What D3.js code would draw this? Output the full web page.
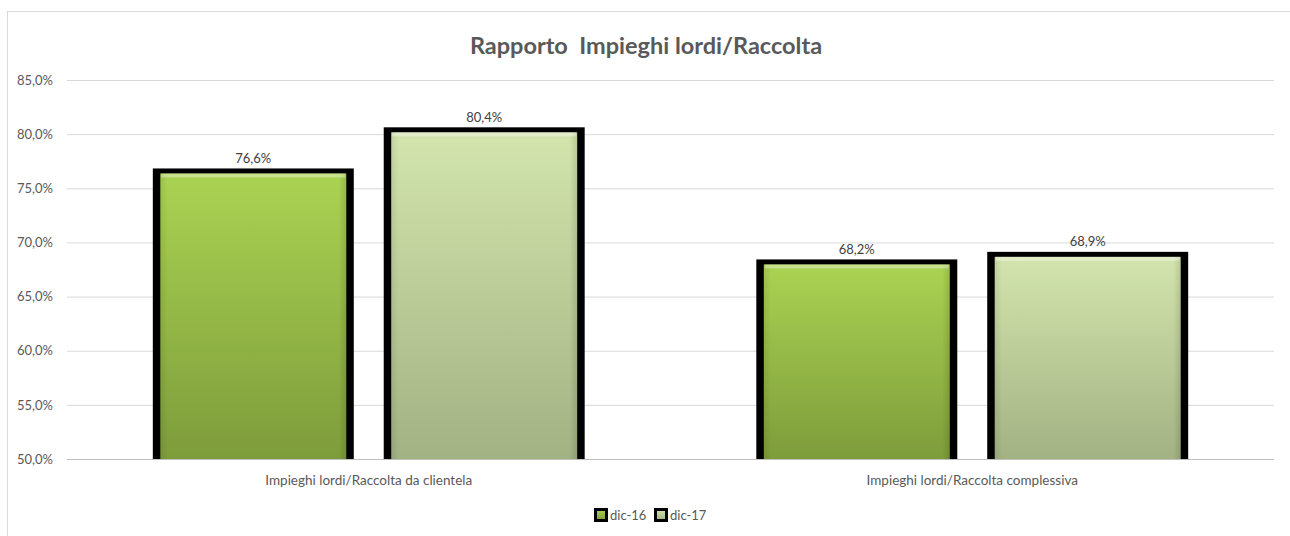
<!DOCTYPE html>
<html>
<head>
<meta charset="utf-8">
<script src="https://cdn.jsdelivr.net/npm/d3@7"></script>
<style>
  body{margin:0;background:#fff;}
  svg text{font-family:Lato,"Open Sans",sans-serif;}
</style>
</head>
<body>
<div id="chart"></div>
<script>
var svgW=1290,svgH=536;
var categories=["Impieghi lordi/Raccolta da clientela","Impieghi lordi/Raccolta complessiva"];
var seriesNames=["dic-16","dic-17"];
var dic16=[76.6,68.2];
var dic17=[80.4,68.9];
var yTicks=[50,55,60,65,70,75,80,85];
var titleText="Rapporto  Impieghi lordi/Raccolta";

var plotL=67,plotR=1274,plotT=80,plotB=459;
var fmt=function(v){return v.toFixed(1).replace(".",",")+"%";};

var svg=d3.select("#chart").append("svg")
    .attr("width",svgW).attr("height",svgH);

var defs=svg.append("defs");
var grads=[["g16","#abd352","#7d9c3b"],["g17","#d3e5ad","#a2b283"]];
grads.forEach(function(g){
    var lg=defs.append("linearGradient").attr("id",g[0])
        .attr("x1",0).attr("y1",0).attr("x2",0).attr("y2",1);
    lg.append("stop").attr("offset","0%").attr("stop-color",g[1]);
    lg.append("stop").attr("offset","100%").attr("stop-color",g[2]);
});
var hl=defs.append("linearGradient").attr("id","sideShade")
    .attr("x1",0).attr("y1",0).attr("x2",1).attr("y2",0);
hl.append("stop").attr("offset","0%").attr("stop-color","#000").attr("stop-opacity",0.08);
hl.append("stop").attr("offset","4%").attr("stop-color","#000").attr("stop-opacity",0);
hl.append("stop").attr("offset","96%").attr("stop-color","#000").attr("stop-opacity",0);
hl.append("stop").attr("offset","100%").attr("stop-color","#000").attr("stop-opacity",0.12);

// chart border
svg.append("rect")
    .attr("x",7.5).attr("y",11.5)
    .attr("width",1300).attr("height",530)
    .attr("fill","none").attr("stroke","#d9d9d9").attr("stroke-width",1);

var y=d3.scaleLinear().domain([50,85]).range([plotB,plotT]);
var x0=d3.scaleBand().domain(categories).range([plotL,plotR])
    .paddingInner(0.296).paddingOuter(0.148);
var x1=d3.scaleBand().domain(seriesNames).range([0,x0.bandwidth()])
    .paddingInner(0.16).paddingOuter(0);

// gridlines
var yAxis=d3.axisLeft(y).tickValues(yTicks).tickSize(-(plotR-plotL)).tickFormat(fmt).tickPadding(14);
var ga=svg.append("g").attr("transform","translate("+plotL+",0)").call(yAxis);
ga.select(".domain").remove();
ga.selectAll(".tick line").attr("stroke","#d9d9d9").attr("stroke-width",1);
ga.selectAll(".tick text").attr("fill","#595959").style("font-size","13px");

// title
svg.append("text")
    .attr("x",646).attr("y",54)
    .attr("text-anchor","middle")
    .attr("fill","#595959")
    .style("font-size","23.5px").style("font-weight","bold")
    .style("white-space","pre")
    .text(titleText);

var data=categories.map(function(c,i){
    return {cat:c,vals:[{s:"dic-16",v:dic16[i],g:"g16"},{s:"dic-17",v:dic17[i],g:"g17"}]};
});

var groups=svg.selectAll("g.cat").data(data).enter()
    .append("g").attr("class","cat")
    .attr("transform",function(d){return "translate("+x0(d.cat)+",0)";});

var bars=groups.selectAll("g.bar").data(function(d){return d.vals;}).enter()
    .append("g").attr("class","bar");

// black frame (top + sides, open at the axis)
bars.append("rect")
    .attr("x",function(d){return x1(d.s)-3.5;})
    .attr("y",function(d){return y(d.v)-2.5;})
    .attr("width",x1.bandwidth()+7)
    .attr("height",function(d){return y(50)-y(d.v)+2.5;})
    .attr("fill","#000");
bars.append("rect")
    .attr("x",function(d){return x1(d.s)+4;})
    .attr("y",function(d){return y(d.v)+2.5;})
    .attr("width",x1.bandwidth()-8)
    .attr("height",function(d){return y(50)-y(d.v)-2.5;})
    .attr("fill",function(d){return "url(#"+d.g+")";});

// side shading + top bevel
bars.append("rect")
    .attr("x",function(d){return x1(d.s)+4;})
    .attr("y",function(d){return y(d.v)+2.5;})
    .attr("width",x1.bandwidth()-8)
    .attr("height",function(d){return y(50)-y(d.v)-2.5;})
    .attr("fill","url(#sideShade)");
bars.append("rect")
    .attr("x",function(d){return x1(d.s)+5;})
    .attr("y",function(d){return y(d.v)+2.5;})
    .attr("width",x1.bandwidth()-10)
    .attr("height",4)
    .attr("fill","#fff").attr("opacity",0.35);

// bottom axis baseline over the bars
svg.append("line")
    .attr("x1",plotL).attr("x2",plotR)
    .attr("y1",plotB+0.5).attr("y2",plotB+0.5)
    .attr("stroke","#bfbfbf").attr("stroke-width",1);

bars.append("text")
    .attr("x",function(d){return x1(d.s)+x1.bandwidth()/2;})
    .attr("y",function(d){return y(d.v)-8;})
    .attr("text-anchor","middle")
    .attr("fill","#404040")
    .style("font-size","13px")
    .text(function(d){return fmt(d.v);});

// category labels
svg.selectAll("text.catlab").data(categories).enter()
    .append("text").attr("class","catlab")
    .attr("x",function(d){return x0(d)+x0.bandwidth()/2;})
    .attr("y",485)
    .attr("text-anchor","middle")
    .attr("fill","#595959")
    .style("font-size","13.5px")
    .text(function(d){return d;});

// legend
var legendX=[594,654];
var lg=svg.selectAll("g.leg").data(grads).enter()
    .append("g").attr("class","leg")
    .attr("transform",function(d,i){return "translate("+legendX[i]+",508)";});
lg.append("rect").attr("x",1.5).attr("y",1.5).attr("width",11).attr("height",11)
    .attr("fill",function(d){return "url(#"+d[0]+")";})
    .attr("stroke","#000").attr("stroke-width",3);
lg.append("text").attr("x",16).attr("y",12)
    .attr("fill","#595959").style("font-size","13px")
    .text(function(d,i){return seriesNames[i];});
</script>
</body>
</html>
